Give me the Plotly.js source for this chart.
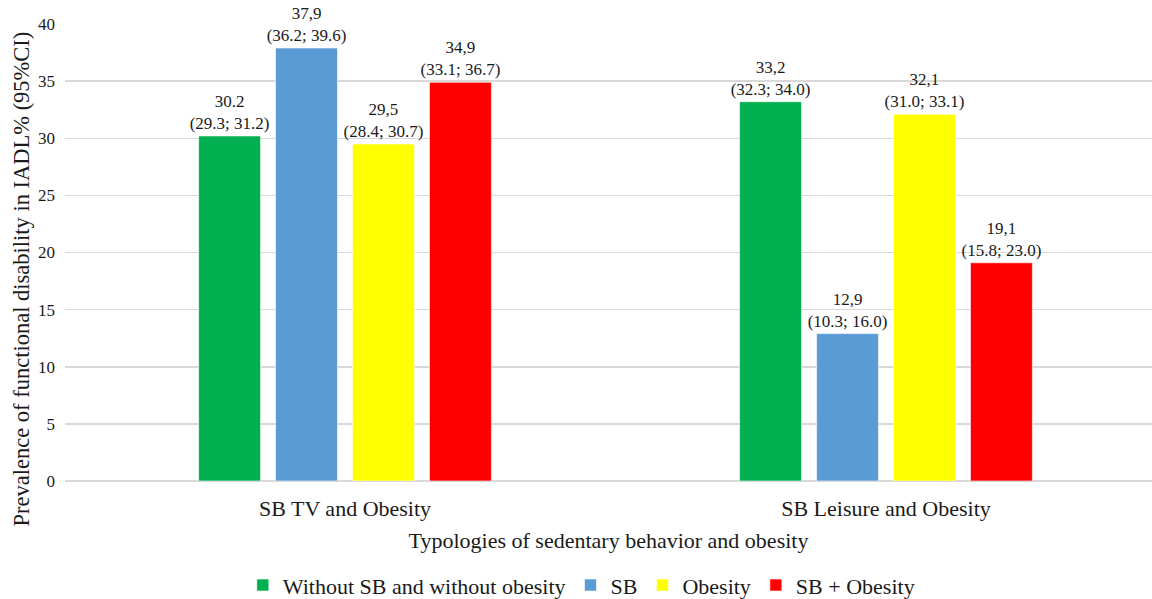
<!DOCTYPE html>
<html>
<head>
<meta charset="utf-8">
<script src="https://cdn.plot.ly/plotly-3.0.1.min.js"></script>
<style>html,body{margin:0;padding:0;background:#fff;}#chart{width:1152px;height:599px;}</style>
</head>
<body>
<div id="chart"></div>
<script>
const categories = ["SB TV and Obesity", "SB Leisure and Obesity"];
const seriesNames = ["Without SB and without obesity", "SB", "Obesity", "SB + Obesity"];
const values = {
  withoutBoth: [30.2, 33.2],
  sb: [37.9, 12.9],
  obesity: [29.5, 32.1],
  sbObesity: [34.9, 19.1]
};
const pointLabels = {
  withoutBoth: ["30.2", "33,2"],
  sb: ["37,9", "12,9"],
  obesity: ["29,5", "32,1"],
  sbObesity: ["34,9", "19,1"]
};
const ciLabels = {
  withoutBoth: ["(29.3; 31.2)", "(32.3; 34.0)"],
  sb: ["(36.2; 39.6)", "(10.3; 16.0)"],
  obesity: ["(28.4; 30.7)", "(31.0; 33.1)"],
  sbObesity: ["(33.1; 36.7)", "(15.8; 23.0)"]
};
const yTicks = [0, 5, 10, 15, 20, 25, 30, 35, 40];
const yTitle = "Prevalence of functional disability in IADL% (95%CI)";
const xTitle = "Typologies of sedentary behavior and obesity";
const colors = ["#00B050", "#5B9BD5", "#FFFF00", "#FF0000"];
const keys = ["withoutBoth", "sb", "obesity", "sbObesity"];

const FONT = "Liberation Serif";

const traces = keys.map((k, i) => ({
  type: "bar",
  name: seriesNames[i],
  x: categories,
  y: values[k],
  text: values[k].map((v, j) => pointLabels[k][j] + "<br>" + ciLabels[k][j]),
  textposition: "outside",
  constraintext: "none",
  cliponaxis: false,
  textfont: {family: FONT, size: 17, color: "#1a1a1a"},
  marker: {color: colors[i], line: {color: "rgba(255,255,255,0.6)", width: 1}},
  hoverinfo: "none"
}));

const layout = {
  width: 1152,
  height: 599,
  margin: {l: 65, r: 0, t: 24, b: 118},
  paper_bgcolor: "#fff",
  plot_bgcolor: "#fff",
  font: {family: FONT, color: "#1a1a1a"},
  barmode: "group",
  bargap: 0.431,
  bargroupgap: 0.195,
  showlegend: true,
  legend: {
    orientation: "h",
    x: 0.475, xanchor: "center",
    yref: "container", y: 0.023, yanchor: "middle",
    font: {family: FONT, size: 22, color: "#1a1a1a"},
    traceorder: "normal"
  },
  xaxis: {
    type: "category",
    range: [-0.5176, 1.4917],
    showgrid: false,
    showline: false,
    zeroline: false,
    ticks: "",
    ticklabelstandoff: 12,
    tickfont: {family: FONT, size: 22, color: "#1a1a1a"},
    title: {text: xTitle, font: {family: FONT, size: 22, color: "#1a1a1a"}, standoff: 12},
    fixedrange: true
  },
  yaxis: {
    range: [0, 40],
    tickvals: yTicks,
    ticktext: yTicks.map(String),
    showgrid: true,
    gridcolor: "#D9D9D9",
    gridwidth: 1.5,
    zeroline: true,
    zerolinecolor: "#D9D9D9",
    zerolinewidth: 1.5,
    showline: false,
    ticks: "",
    ticklabelstandoff: 9,
    tickfont: {family: FONT, size: 17, color: "#1a1a1a"},
    fixedrange: true
  },
  annotations: [{
    text: yTitle,
    textangle: -90,
    xref: "paper", yref: "paper",
    x: -0.0396, y: 0.443,
    xanchor: "center", yanchor: "middle",
    showarrow: false,
    font: {family: FONT, size: 22.5, color: "#1a1a1a"}
  }]
};

Plotly.newPlot("chart", traces, layout, {staticPlot: true, displayModeBar: false});
</script>
</body>
</html>
